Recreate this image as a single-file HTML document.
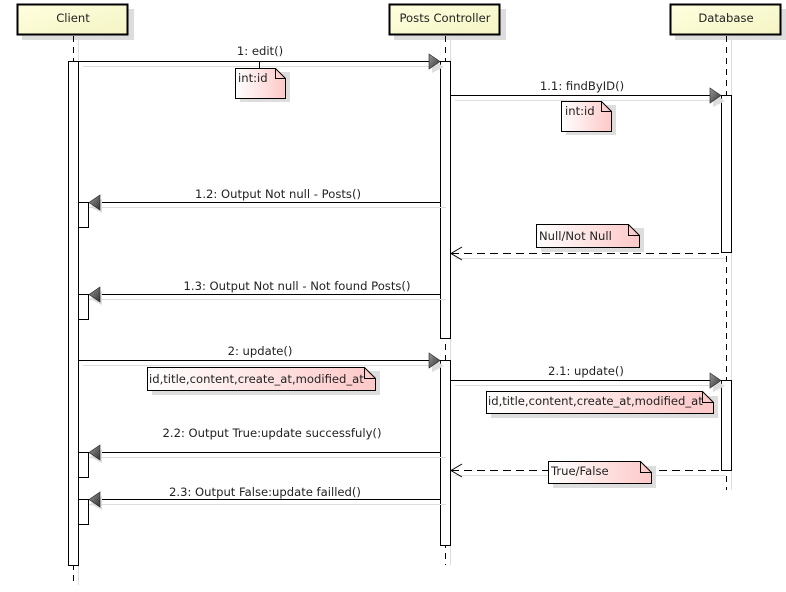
<!DOCTYPE html>
<html><head><meta charset="utf-8"><style>
html,body{margin:0;padding:0;background:#fff;width:786px;height:592px;overflow:hidden}
svg text{font-family:"DejaVu Sans","Liberation Sans",sans-serif;font-size:11.6px;fill:#222}
</style></head><body>
<svg width="786" height="592" viewBox="0 0 786 592" xmlns="http://www.w3.org/2000/svg">
<defs>
<linearGradient id="hd" x1="0" y1="0" x2="1" y2="1"><stop offset="0" stop-color="#ffffe0"/><stop offset="1" stop-color="#f4f4c4"/></linearGradient>
<linearGradient id="nt" x1="0" y1="0" x2="1" y2="0"><stop offset="0" stop-color="#fff"/><stop offset="1" stop-color="#fdc8c8"/></linearGradient>
<linearGradient id="ar" x1="0" y1="0" x2="1" y2="1"><stop offset="0" stop-color="#999"/><stop offset="1" stop-color="#333"/></linearGradient>
</defs>
<g>
<rect x="22" y="9" width="112" height="31" fill="#ddd"/>
<rect x="17.5" y="4.5" width="110" height="30" fill="url(#hd)" stroke="#000" stroke-width="2"/>
<text x="73" y="22" text-anchor="middle">Client</text>
<rect x="394" y="9" width="112" height="31" fill="#ddd"/>
<rect x="389.5" y="4.5" width="110" height="30" fill="url(#hd)" stroke="#000" stroke-width="2"/>
<text x="445" y="22" text-anchor="middle">Posts Controller</text>
<rect x="675" y="9" width="112" height="31" fill="#ddd"/>
<rect x="670.5" y="4.5" width="110" height="30" fill="url(#hd)" stroke="#000" stroke-width="2"/>
<text x="726" y="22" text-anchor="middle">Database</text>
</g>
<g stroke="#000" stroke-dasharray="6,5">
<line x1="73.5" y1="36" x2="73.5" y2="585"/>
<line x1="445.5" y1="36" x2="445.5" y2="565"/>
<line x1="726.5" y1="36" x2="726.5" y2="490"/>
</g>
<g stroke="#ddd"><line x1="78.5" y1="36" x2="78.5" y2="585"/><line x1="450.5" y1="36" x2="450.5" y2="565"/><line x1="731.5" y1="36" x2="731.5" y2="490"/></g>
<g fill="#fff" stroke="#000">
<rect x="68.5" y="61.5" width="10" height="504"/>
<rect x="440.5" y="61.5" width="10" height="277"/>
<rect x="440.5" y="360.5" width="10" height="185"/>
<rect x="721.5" y="95.5" width="10" height="157"/>
<rect x="721.5" y="380.5" width="10" height="90"/>
<rect x="78.5" y="202.5" width="10" height="25"/>
<rect x="78.5" y="294.5" width="10" height="25"/>
<rect x="78.5" y="452.5" width="10" height="25"/>
<rect x="78.5" y="499.5" width="10" height="25"/>
</g>
<g stroke="#ddd">
<line x1="83" y1="66.5" x2="440" y2="66.5"/>
<line x1="455" y1="100.5" x2="721" y2="100.5"/>
<line x1="89" y1="207.5" x2="446" y2="207.5"/>
<line x1="89" y1="299.5" x2="446" y2="299.5"/>
<line x1="83" y1="365.5" x2="440" y2="365.5"/>
<line x1="455" y1="385.5" x2="721" y2="385.5"/>
<line x1="89" y1="457.5" x2="446" y2="457.5"/>
<line x1="89" y1="504.5" x2="446" y2="504.5"/>
<line x1="455" y1="258.5" x2="726" y2="258.5"/>
<line x1="455" y1="475.5" x2="726" y2="475.5"/>
</g>
<g stroke="#000">
<line x1="78" y1="61.5" x2="430" y2="61.5"/>
<line x1="451" y1="95.5" x2="711" y2="95.5"/>
<line x1="99" y1="202.5" x2="440" y2="202.5"/>
<line x1="99" y1="294.5" x2="440" y2="294.5"/>
<line x1="78" y1="360.5" x2="430" y2="360.5"/>
<line x1="451" y1="380.5" x2="711" y2="380.5"/>
<line x1="99" y1="452.5" x2="440" y2="452.5"/>
<line x1="99" y1="499.5" x2="440" y2="499.5"/>
<line x1="451" y1="253.5" x2="721" y2="253.5" stroke-dasharray="8,5"/>
<line x1="451" y1="470.5" x2="721" y2="470.5" stroke-dasharray="8,5"/>
<polyline points="462,247 451,253.5 462,260" fill="none"/>
<polyline points="462,464 451,470.5 462,477" fill="none"/>
</g>
<g fill="#ddd"><polygon points="432,59 444,67 432,73"/><polygon points="713,93 725,101 713,107"/><polygon points="713,378 725,386 713,392"/><polygon points="432,358 444,366 432,372"/>
<polygon points="102,199 90,207 102,213"/><polygon points="102,291 90,299 102,305"/><polygon points="102,449 90,457 102,463"/><polygon points="102,496 90,504 102,510"/></g>
<g fill="url(#ar)" stroke="#222" stroke-width="0.6">
<polygon points="429,54 440,61.5 429,69"/><polygon points="710,88 721,95.5 710,103"/>
<polygon points="429,353 440,360.5 429,368"/><polygon points="710,373 721,380.5 710,388"/>
<polygon points="100,195 89,202.5 100,210"/><polygon points="100,287 89,294.5 100,302"/>
<polygon points="100,445 89,452.5 100,460"/><polygon points="100,492 89,499.5 100,507"/>
</g>
<g text-anchor="middle">
<text x="260" y="55">1: edit()</text>
<text x="582" y="90">1.1: findByID()</text>
<text x="278" y="198">1.2: Output Not null - Posts()</text>
<text x="297" y="290">1.3: Output Not null - Not found Posts()</text>
<text x="260" y="355">2: update()</text>
<text x="586" y="375">2.1: update()</text>
<text x="272" y="437">2.2: Output True:update successfuly()</text>
<text x="265" y="496">2.3: Output False:update failled()</text>
</g>
<g>
<line x1="259.5" y1="62" x2="259.5" y2="68" stroke="#000"/>
<rect x="240" y="72" width="50" height="30" fill="#ddd"/>
<path d="M235.5,68.5 H275.5 L285.5,78.5 V98.5 H235.5 Z" fill="url(#nt)" stroke="#000"/>
<path d="M275.5,68.5 V78.5 H285.5" fill="none" stroke="#000"/>
<text x="238" y="82">int:id</text>

<rect x="566" y="105" width="50" height="30" fill="#ddd"/>
<path d="M561.5,101.5 H601.5 L611.5,111.5 V131.5 H561.5 Z" fill="url(#nt)" stroke="#000"/>
<path d="M601.5,101.5 V111.5 H611.5" fill="none" stroke="#000"/>
<text x="565" y="115">int:id</text>

<rect x="541" y="228" width="103" height="24" fill="#ddd"/>
<path d="M536.5,224.5 H628.5 L639.5,235.5 V247.5 H536.5 Z" fill="url(#nt)" stroke="#000"/>
<path d="M628.5,224.5 V235.5 H639.5" fill="none" stroke="#000"/>
<text x="539" y="240">Null/Not Null</text>

<rect x="152" y="371" width="228" height="24" fill="#ddd"/>
<path d="M147.5,367.5 H364.5 L375.5,378.5 V390.5 H147.5 Z" fill="url(#nt)" stroke="#000"/>
<path d="M364.5,367.5 V378.5 H375.5" fill="none" stroke="#000"/>
<text x="149" y="383">id,title,content,create_at,modified_at</text>

<rect x="491" y="396" width="227" height="22" fill="#ddd"/>
<path d="M486.5,391.5 H702.5 L713.5,402.5 V413.5 H486.5 Z" fill="url(#nt)" stroke="#000"/>
<path d="M702.5,391.5 V402.5 H713.5" fill="none" stroke="#000"/>
<text x="488" y="405">id,title,content,create_at,modified_at</text>

<rect x="553" y="466" width="103" height="22" fill="#ddd"/>
<path d="M548.5,461.5 H640.5 L651.5,472.5 V483.5 H548.5 Z" fill="url(#nt)" stroke="#000"/>
<path d="M640.5,461.5 V472.5 H651.5" fill="none" stroke="#000"/>
<text x="551" y="475">True/False</text>
</g>
</svg>
</body></html>
